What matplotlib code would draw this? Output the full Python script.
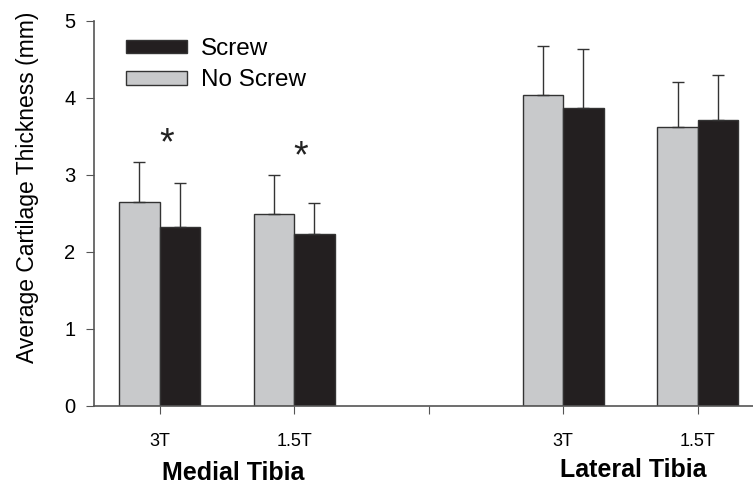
import numpy as np
import matplotlib
matplotlib.use("Agg")
import matplotlib.pyplot as plt

# category slots: medial 3T, medial 1.5T, (gap), lateral 3T, lateral 1.5T
positions = [0, 1, 3, 4]
tickLabels = ["3T", "1.5T", "", "3T", "1.5T"]
noScrew = [2.64, 2.49, 4.04, 3.62]
noScrewSD = [0.52, 0.50, 0.63, 0.59]
screw = [2.32, 2.23, 3.86, 3.71]
screwSD = [0.57, 0.40, 0.77, 0.59]
starPos = [0.05, 1.05]
starY = [3.40, 3.23]

plt.rcParams["font.family"] = ["Liberation Sans", "DejaVu Sans"]

grayCol = "#c8c9cb"
blackCol = "#231f20"
edgeCol = "#333333"
width = 0.3

fig = plt.figure(figsize=(7.53, 4.87), dpi=100)
ax = fig.add_axes([0.1244, 0.167, 0.8756, 0.7905])

x = np.array(positions, dtype=float)
errStyle = dict(ecolor=edgeCol, elinewidth=1.0, capsize=4.2, capthick=1.0)
ax.bar(x - width / 2, noScrew, width, color=grayCol, edgecolor=edgeCol, linewidth=1.0,
       yerr=[np.zeros(4), noScrewSD], error_kw=errStyle, label="No Screw", zorder=2)
ax.bar(x + width / 2, screw, width, color=blackCol, edgecolor=edgeCol, linewidth=1.0,
       yerr=[np.zeros(4), screwSD], error_kw=errStyle, label="Screw", zorder=2)

for sx, sy in zip(starPos, starY):
    ax.text(sx, sy, "*", ha="center", va="center", fontsize=27, color="#222222")

ax.set_xlim(-0.49, 4.41)
ax.set_ylim(0, 5)
ax.set_xticks(range(5))
ax.set_xticklabels(tickLabels, fontsize=13)
ax.set_yticks(range(6))
ax.tick_params(axis="y", labelsize=14.5, direction="out", length=6, color="#555555", pad=7)
ax.tick_params(axis="x", direction="out", length=6, color="#555555", pad=14)
for s in ["top", "right"]:
    ax.spines[s].set_visible(False)
for s in ["left", "bottom"]:
    ax.spines[s].set_color("#555555")
    ax.spines[s].set_linewidth(1.2)

ax.set_ylabel("Average Cartilage Thickness (mm)", fontsize=16.5)
ax.yaxis.label.set_verticalalignment("center")
ax.yaxis.set_label_coords(-0.0997, 0.568)

fig.text(233 / 753, 1 - 473 / 487, "Medial Tibia", ha="center", va="center",
         fontsize=18, fontweight="bold")
fig.text(633 / 753, 1 - 470 / 487, "Lateral Tibia", ha="center", va="center",
         fontsize=18, fontweight="bold")

handles, labels = ax.get_legend_handles_labels()
ax.legend(handles[::-1], labels[::-1], loc="upper left", bbox_to_anchor=(0.034, 0.98),
          frameon=False, fontsize=17.5, handlelength=2.5, handleheight=0.5,
          labelspacing=0.38, handletextpad=0.6, borderaxespad=0)

fig.savefig("out.png", dpi=100)
